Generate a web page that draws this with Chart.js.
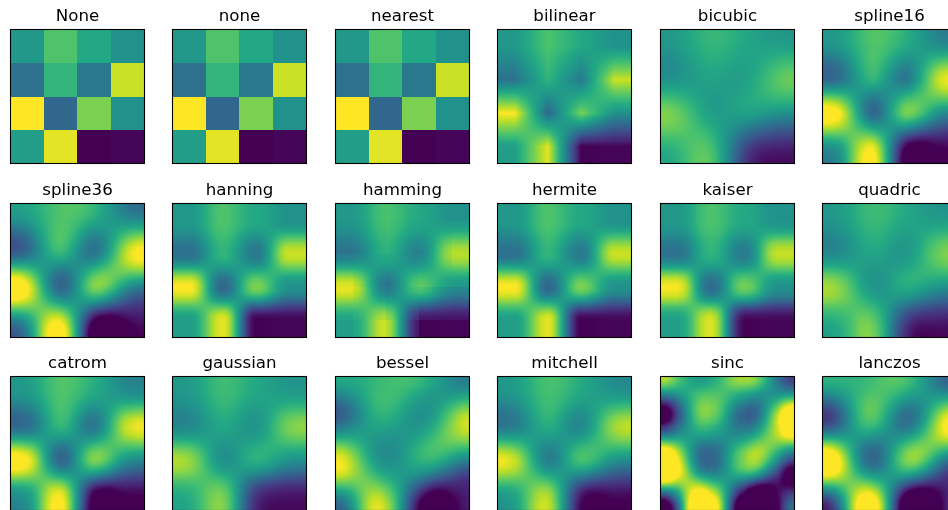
<!DOCTYPE html>
<html>
<head>
<meta charset="utf-8">
<script src="https://cdn.jsdelivr.net/npm/chart.js@4"></script>
<style>
    html, body { margin: 0; padding: 0; background: #fff; width: 948px; height: 510px; overflow: hidden; }
    #wrap { position: relative; width: 948px; height: 510px; overflow: hidden; }
    canvas { position: absolute; }
</style>
</head>
<body>
<div id="wrap"></div>
<script>
const row0 = [0.53, 0.72, 0.60, 0.50];
const row1 = [0.37, 0.65, 0.40, 0.92];
const row2 = [1.00, 0.33, 0.80, 0.50];
const row3 = [0.555, 0.96, 0.00, 0.015];
const rows = [row0, row1, row2, row3];

const methods = ['None', 'none', 'nearest', 'bilinear', 'bicubic', 'spline16',
    'spline36', 'hanning', 'hamming', 'hermite', 'kaiser', 'quadric',
    'catrom', 'gaussian', 'bessel', 'mitchell', 'sinc', 'lanczos'];

const viridis = ['#440154', '#482576', '#414487', '#35608d', '#2a788e', '#21918c',
    '#22a884', '#43bf71', '#7ad151', '#bddf26', '#fde725'];

const panelLefts = [11, 173, 336, 498, 661, 823];
const panelTops = [30, 204, 377];
const panelSize = 133;

function sinc(x) {
    return x === 0 ? 1 : Math.sin(Math.PI * x) / (Math.PI * x);
}

function besselI0(x) {
    let sum = 1, term = 1;
    for (let k = 1; k < 40; k++) {
        term *= (x / (2 * k)) * (x / (2 * k));
        sum += term;
    }
    return sum;
}

function besselJ1(x) {
    let term = x / 2, sum = term;
    for (let k = 1; k < 40; k++) {
        term *= -(x * x / 4) / (k * (k + 1));
        sum += term;
    }
    return sum;
}

// same filters as agg / matplotlib: [radius, weight(|x|)]
const kernels = {
    bilinear: [1, x => 1 - x],
    bicubic: [2, x => {
        const p = v => v <= 0 ? 0 : v * v * v;
        return (p(x + 2) - 4 * p(x + 1) + 6 * p(x) - 4 * p(x - 1)) / 6;
    }],
    spline16: [2, x => x < 1
        ? ((x - 9 / 5) * x - 1 / 5) * x + 1
        : ((-1 / 3 * (x - 1) + 4 / 5) * (x - 1) - 7 / 15) * (x - 1)],
    spline36: [3, x => {
        if (x < 1) return ((13 / 11 * x - 453 / 209) * x - 3 / 209) * x + 1;
        if (x < 2) return ((-6 / 11 * (x - 1) + 270 / 209) * (x - 1) - 156 / 209) * (x - 1);
        return ((1 / 11 * (x - 2) - 45 / 209) * (x - 2) + 26 / 209) * (x - 2);
    }],
    hanning: [1, x => 0.5 + 0.5 * Math.cos(Math.PI * x)],
    hamming: [1, x => 0.54 + 0.46 * Math.cos(Math.PI * x)],
    hermite: [1, x => (2 * x - 3) * x * x + 1],
    kaiser: [1, x => besselI0(6.33 * Math.sqrt(Math.max(0, 1 - x * x))) / besselI0(6.33)],
    quadric: [2, x => {
        if (x < 0.5) return 0.75 - x * x;
        if (x >= 1.5) return 0;
        const t = x - 1.5;
        return 0.5 * t * t;
    }],
    catrom: [2, x => x < 1
        ? 0.5 * (2 + x * x * (-5 + x * 3))
        : 0.5 * (4 + x * (-8 + x * (5 - x)))],
    gaussian: [2, x => Math.exp(-2 * x * x) * Math.sqrt(2 / Math.PI)],
    // agg rounds the 3.2383 radius up to a whole 4 cells, so no hard cut
    bessel: [4, x => x === 0 ? Math.PI / 4 : besselJ1(Math.PI * x) / (2 * x)],
    mitchell: [2, x => {
        const b = 1 / 3, c = 1 / 3;
        if (x < 1) {
            return (6 - 2 * b) / 6 + x * x * ((-18 + 12 * b + 6 * c) / 6 + x * (12 - 9 * b - 6 * c) / 6);
        }
        return (8 * b + 24 * c) / 6 + x * ((-12 * b - 48 * c) / 6 + x * ((6 * b + 30 * c) / 6 + x * (-b - 6 * c) / 6));
    }],
    sinc: [4, x => sinc(x)],
    lanczos: [4, x => sinc(x) * sinc(x / 4)]
};

function colorAt(v) {
    const t = Math.min(1, Math.max(0, v)) * (viridis.length - 1);
    const i = Math.min(viridis.length - 2, Math.floor(t));
    const f = t - i;
    const rgb = [];
    for (let c = 0; c < 3; c++) {
        const a = parseInt(viridis[i].substr(1 + c * 2, 2), 16);
        const b = parseInt(viridis[i + 1].substr(1 + c * 2, 2), 16);
        rgb.push(a + (b - a) * f);
    }
    return rgb;
}

// which cells feed a sample at u, and how much (edges reflect like matplotlib)
function weightsFor(u, method, n) {
    const kernel = kernels[method];
    if (!kernel) {
        return [[Math.min(n - 1, Math.max(0, Math.round(u))), 1]];
    }
    const r = kernel[0], out = [];
    let total = 0;
    for (let i = Math.floor(u - r); i <= Math.ceil(u + r); i++) {
        const d = Math.abs(i - u);
        if (d >= r) continue;
        const w = kernel[1](d);
        const m = ((i % (2 * n)) + 2 * n) % (2 * n);
        out.push([m < n ? m : 2 * n - 1 - m, w]);
        total += w;
    }
    out.forEach(o => { o[1] /= total; });
    return out;
}

const imagePlugin = {
    id: 'imagePlugin',
    beforeDatasetsDraw(chart) {
        const area = chart.chartArea, ctx = chart.ctx;
        const method = chart.options.plugins.title.text;
        const cells = chart.data.datasets[0].data;
        const n = rows.length;
        const grid = [];
        cells.forEach(c => {
            grid[c.y] = grid[c.y] || [];
            grid[c.y][c.x] = c.v;
        });
        const w = Math.round(area.right - area.left), h = Math.round(area.bottom - area.top);
        const left = Math.round(area.left), top = Math.round(area.top);
        const xw = [], yw = [];
        for (let px = 0; px < w; px++) xw.push(weightsFor(chart.scales.x.getValueForPixel(left + px + 0.5), method, n));
        for (let py = 0; py < h; py++) yw.push(weightsFor(chart.scales.y.getValueForPixel(top + py + 0.5), method, n));
        const img = ctx.createImageData(w, h);
        for (let py = 0; py < h; py++) {
            for (let px = 0; px < w; px++) {
                let v = 0;
                yw[py].forEach(a => {
                    xw[px].forEach(b => { v += a[1] * b[1] * grid[a[0]][b[0]]; });
                });
                const rgb = colorAt(v), k = (py * w + px) * 4;
                img.data[k] = rgb[0];
                img.data[k + 1] = rgb[1];
                img.data[k + 2] = rgb[2];
                img.data[k + 3] = 255;
            }
        }
        ctx.putImageData(img, left, top);
    },
    afterDatasetsDraw(chart) {
        const area = chart.chartArea, ctx = chart.ctx;
        ctx.save();
        ctx.strokeStyle = '#000';
        ctx.lineWidth = 1.1;
        ctx.strokeRect(area.left - 0.5, area.top - 0.5, area.right - area.left + 1, area.bottom - area.top + 1);
        ctx.restore();
    }
};

function drawPanel(method, idx) {
    const wrap = document.getElementById('wrap');
    const canvas = document.createElement('canvas');
    const pad = 3, head = 30;
    canvas.width = panelSize + pad * 2;
    canvas.height = panelSize + head + pad;
    canvas.style.left = (panelLefts[idx % 6] - pad) + 'px';
    canvas.style.top = (panelTops[Math.floor(idx / 6)] - head) + 'px';
    wrap.appendChild(canvas);

    const cells = [];
    rows.forEach((row, y) => row.forEach((v, x) => cells.push({ x: x, y: y, v: v })));

    new Chart(canvas.getContext('2d'), {
        type: 'scatter',
        data: { datasets: [{ data: cells, pointRadius: 0 }] },
        options: {
            responsive: false,
            animation: false,
            devicePixelRatio: 1,
            layout: { padding: { left: pad, right: pad, top: 0, bottom: pad } },
            plugins: {
                legend: { display: false },
                tooltip: { enabled: false },
                title: {
                    display: true,
                    text: method,
                    color: '#000',
                    font: { family: '"DejaVu Sans"', size: 16.67, weight: 'normal', lineHeight: 1.2 },
                    padding: { top: 6.5, bottom: 3.5 }
                }
            },
            scales: {
                x: { type: 'linear', display: false, min: -0.5, max: 3.5 },
                y: { type: 'linear', display: false, min: -0.5, max: 3.5, reverse: true }
            }
        },
        plugins: [imagePlugin]
    });
}

window.onload = function() {
    methods.forEach(drawPanel);
};
</script>
</body>
</html>
